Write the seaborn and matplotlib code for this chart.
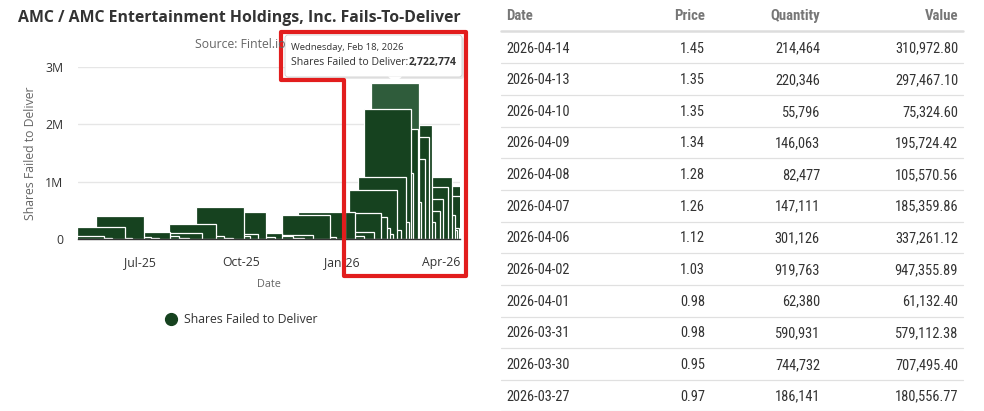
import numpy as np
import pandas as pd
import matplotlib
matplotlib.use("Agg")
import matplotlib.pyplot as plt
import matplotlib.dates as mdates
from matplotlib.lines import Line2D
from matplotlib.patches import Polygon, FancyBboxPatch
from matplotlib.text import Annotation
from matplotlib.ticker import FuncFormatter
import seaborn as sns

# fails-to-deliver series (last 12 points from the table)
ftd_dates = [
    "2025-05-08", "2025-05-15", "2025-05-27", "2025-06-03", "2025-06-13", "2025-06-20",
    "2025-06-27", "2025-07-07", "2025-07-15", "2025-07-24", "2025-08-05", "2025-08-18",
    "2025-08-25", "2025-09-02", "2025-09-12", "2025-09-18", "2025-09-25", "2025-10-02",
    "2025-10-10", "2025-10-17", "2025-10-27", "2025-11-06", "2025-11-14", "2025-11-29",
    "2025-12-05", "2025-12-13", "2025-12-22", "2025-12-30", "2026-01-08", "2026-01-15",
    "2026-01-20", "2026-01-23", "2026-01-26", "2026-01-29", "2026-02-02", "2026-02-06",
    "2026-02-09", "2026-02-11", "2026-02-13", "2026-02-17", "2026-02-18", "2026-02-20",
    "2026-02-24", "2026-02-27", "2026-03-02", "2026-03-05", "2026-03-09", "2026-03-12",
    "2026-03-17", "2026-03-20", "2026-03-23", "2026-03-25", "2026-03-27", "2026-03-30",
    "2026-03-31", "2026-04-01", "2026-04-02", "2026-04-06", "2026-04-07", "2026-04-08",
    "2026-04-09", "2026-04-10", "2026-04-13", "2026-04-14",
]
ftd_shares = [
    45000, 20000, 212000, 10000, 405000, 35000,
    15000, 125000, 55000, 20000, 100000, 270000,
    60000, 25000, 565000, 45000, 80000, 470000,
    30000, 110000, 60000, 25000, 70000, 425000,
    40000, 470000, 465000, 60000, 120000, 450000,
    380000, 200000, 90000, 850000, 160000, 1090000,
    300000, 2270000, 1150000, 1920000, 2722774, 650000,
    1400000, 1780000, 1990000, 300000, 480000, 700000,
    900000, 1080000, 420000, 160000, 186141, 744732,
    590931, 62380, 919763, 301126, 147111, 82477,
    146063, 55796, 220346, 214464,
]

table_dates = ["2026-04-14", "2026-04-13", "2026-04-10", "2026-04-09", "2026-04-08", "2026-04-07",
               "2026-04-06", "2026-04-02", "2026-04-01", "2026-03-31", "2026-03-30", "2026-03-27"]
table_price = [1.45, 1.35, 1.35, 1.34, 1.28, 1.26, 1.12, 1.03, 0.98, 0.98, 0.95, 0.97]
table_qty = [214464, 220346, 55796, 146063, 82477, 147111, 301126, 919763, 62380, 590931, 744732, 186141]

hover_date = "2026-02-18"
x_ticks = ["2025-07-01", "2025-10-01", "2026-01-01", "2026-04-01"]

sns.set_style("white")
plt.rcParams["font.family"] = ["Open Sans", "DejaVu Sans"]
narrow = ["Roboto Condensed", "Roboto", "DejaVu Sans"]

green = "#16421f"
green_hover = "#2f5c3b"

df = pd.DataFrame({"date": pd.to_datetime(ftd_dates), "shares": ftd_shares})
# latest first, so the earlier columns end up drawn on top
df = df.sort_values("date", ascending=False).reset_index(drop=True)
colors = [green_hover if d == pd.Timestamp(hover_date) else green for d in df["date"]]

W, H = 984, 411
fig = plt.figure(figsize=(W / 100, H / 100), dpi=100)
inch = fig.dpi_scale_trans


def px(x, y):
    return (x / 100, (H - y) / 100)


ax = fig.add_axes([78 / W, 1 - 239 / H, (460 - 78) / W, (239 - 67) / H])
ax.bar(df["date"], df["shares"], width=43, color=colors, edgecolor="white", linewidth=0.9)

ax.set_xlim(pd.Timestamp("2025-05-06"), pd.Timestamp("2026-04-18"))
ax.set_ylim(0, 3e6)
ax.set_yticks([0, 1e6, 2e6, 3e6])
ax.yaxis.set_major_formatter(FuncFormatter(lambda v, p: "0" if v == 0 else f"{v / 1e6:.0f}M"))
ax.set_xticks(pd.to_datetime(x_ticks))
ax.xaxis.set_major_formatter(mdates.DateFormatter("%b-%y"))
ax.yaxis.grid(True, color="#e6e6e6", linewidth=1)
ax.set_axisbelow(True)
for s in ["top", "right", "left"]:
    ax.spines[s].set_visible(False)
ax.spines["bottom"].set_color("#333333")
ax.spines["bottom"].set_linewidth(1)
ax.tick_params(axis="x", length=7, width=0.8, color="#333333", pad=5.5, labelsize=8.8, labelcolor="#333333")
ax.tick_params(axis="y", length=0, pad=10.5, labelsize=8.8, labelcolor="#333333")
ax.set_ylabel("Shares Failed to Deliver", fontsize=8.8, color="#666666")
ax.yaxis.set_label_coords(-0.108, 0.5)
ax.set_xlabel("Date", fontsize=7.8, color="#666666")
ax.xaxis.set_label_coords((269 - 78) / 382, -0.235)

# titles
fig.text(*px(239, 18), "AMC / AMC Entertainment Holdings, Inc. Fails-To-Deliver", transform=inch,
         ha="center", va="center", fontsize=11.4, fontweight="bold", color="#333333")
fig.text(*px(240, 44), "Source: Fintel.io", transform=inch, ha="center", va="center",
         fontsize=8.8, color="#666666")

# tooltip
hv = df.loc[df["date"] == pd.Timestamp(hover_date), "shares"].iloc[0]
shadow = FancyBboxPatch(px(287, 79), 1.77, 0.42, boxstyle="round,pad=0,rounding_size=0.03",
                        transform=inch, facecolor="#d9d9d9", edgecolor="none", alpha=0.6)
box = FancyBboxPatch(px(285, 77), 1.77, 0.42, boxstyle="round,pad=0,rounding_size=0.03",
                     transform=inch, facecolor="white", edgecolor="#cfcfcf", linewidth=0.6)
arrow = Polygon([px(388, 76.5), px(402, 76.5), px(395, 83)], closed=True, transform=inch,
                facecolor="white", edgecolor="none")
for p in [shadow, box, arrow]:
    fig.add_artist(p)
fig.text(*px(291, 47), pd.Timestamp(hover_date).strftime("%A, %b %d, %Y"), transform=inch,
         ha="left", va="center", fontsize=6.8, color="#333333")
t1 = fig.text(*px(291, 62), "Shares Failed to Deliver:", transform=inch,
              ha="left", va="center", fontsize=7.6, color="#333333")
fig.add_artist(Annotation(f"{hv:,}", xy=(1, 0.5), xycoords=t1, ha="left", va="center",
                          fontsize=7.6, fontweight="bold", color="#333333"))

# red highlight outline
outline = Polygon([px(281, 32), px(466, 32), px(466, 276), px(344, 276), px(344, 80), px(281, 80)],
                  closed=True, transform=inch, fill=False, edgecolor="#e21d1d", linewidth=3,
                  joinstyle="round")
fig.add_artist(outline)

# legend
fig.add_artist(Line2D([px(171, 319)[0]], [px(171, 319)[1]], transform=inch, marker="o",
                      markersize=8.5, color=green, linestyle="none"))
fig.text(*px(184, 319), "Shares Failed to Deliver", transform=inch, ha="left", va="center",
         fontsize=8.8, color="#333333")

# table
header_y = 16
cols = [("Date", 506, "left"), ("Price", 705, "right"), ("Quantity", 820, "right"), ("Value", 958, "right")]
for name, x, ha in cols:
    fig.text(*px(x, header_y), name, transform=inch, ha=ha, va="center", fontsize=10.6,
             fontweight="bold", color="#777777", family=narrow)
fig.add_artist(Line2D([5.01, 9.63], [(H - 31) / 100] * 2, transform=inch, color="#dddddd", linewidth=1.8))
for i, (d, pr, q) in enumerate(zip(table_dates, table_price, table_qty)):
    y = 48.5 + 31.65 * i
    vals = [d, f"{pr:.2f}", f"{q:,}", f"{pr * q:,.2f}"]
    for (name, x, ha), s in zip(cols, vals):
        fig.text(*px(x, y), s, transform=inch, ha=ha, va="center", fontsize=10.4,
                 color="#333333", family=narrow)
    ly = (H - (63.3 + 31.65 * i)) / 100
    fig.add_artist(Line2D([5.01, 9.63], [ly, ly], transform=inch, color="#e0e0e0", linewidth=0.9))

fig.savefig("out.png", dpi=100)
